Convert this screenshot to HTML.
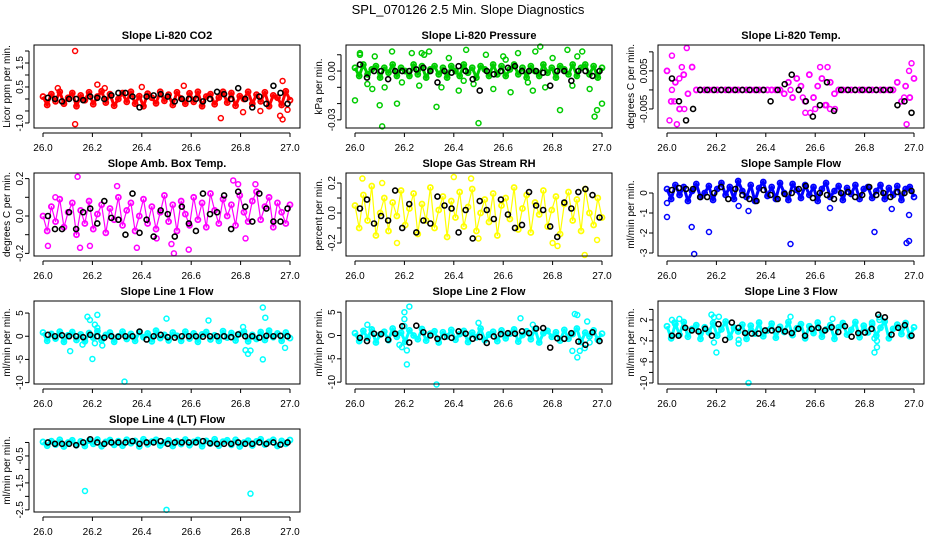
<!DOCTYPE html>
<html><head><meta charset="utf-8"><style>
body{margin:0;background:#fff}
svg{display:block;font-family:"Liberation Sans",sans-serif}
</style></head><body>
<svg id="c" width="936" height="540" viewBox="0 0 936 540">
<rect width="936" height="540" fill="#fff"/>
<text x="468" y="14" text-anchor="middle" font-size="13">SPL_070126  2.5 Min. Slope Diagnostics</text>
</svg>
<script>
const xTicks=[26.0,26.2,26.4,26.6,26.8,27.0];
const xTickLabels=["26.0","26.2","26.4","26.6","26.8","27.0"];
const titles=["Slope Li-820 CO2","Slope Li-820 Pressure","Slope Li-820 Temp.","Slope Amb. Box Temp.","Slope Gas Stream RH","Slope Sample Flow","Slope Line 1 Flow","Slope Line 2 Flow","Slope Line 3 Flow","Slope Line 4 (LT) Flow"];
const yTitles=["Licor ppm per min.","kPa per min.","degrees C per min.","degrees C per min.","percent per min.","ml/min per min.","ml/min per min.","ml/min per min.","ml/min per min.","ml/min per min."];
const colors=["#ff0000","#00cc00","#ff00ff","#ff00ff","#ffff00","#0000ff","#00ffff","#00ffff","#00ffff","#00ffff"];
const zigWidths=[3,3,0,1.2,1.2,3,3,3,3,3];
const yMins=[-1.21,-0.035,-0.01,-0.214,-0.287,-3.15,-10.3,-10.4,-10.2,-2.58];
const yMaxs=[2.25,0.016,0.0118,0.23,0.267,1.0,7.6,7.4,5.6,0.5];
const yTicks=[[-1,-0.5,0,0.5,1,1.5,2],[-0.03,-0.02,-0.01,0,0.01],[-0.005,0,0.005,0.01],[-0.2,-0.1,0,0.1,0.2],[-0.2,-0.1,0,0.1,0.2],[-3,-2,-1,0],[-10,-5,0,5],[-10,-5,0,5],[-10,-8,-6,-4,-2,0,2,4],[-2.5,-2,-1.5,-1,-0.5,0]];
const yTickLabels=[["-1.0","","","0.5","","1.5",""],["-0.03","","","0.00",""],["-0.005","","0.005",""],["-0.2","","0.0","","0.2"],["-0.2","","0.0","","0.2"],["-3","-2","-1","0"],["-10","-5","0","5"],["-10","-5","0","5"],["-10","","-6","","-2","","2",""],["-2.5","","-1.5","","-0.5",""]];
const band0=[0.1,-0.25,0.2,-0.1,0.3,-0.2,0.05,0.25,-0.3,0.15,-0.05,0.28,-0.22,0.1,0.32,-0.15,0.2,-0.28,0.0,0.25,-0.12,0.3,-0.2,0.12,-0.3,0.22,0.05,-0.18,0.3,-0.08,0.18,-0.25,0.28,0.02,-0.2,0.24,-0.12,0.3,-0.3,0.1,0.2,-0.22,0.06,0.3,-0.15,0.25,-0.28,0.12,0.0,0.3,-0.2,0.18,-0.1,0.28,-0.3,0.15,0.05,-0.25,0.32,-0.05];
const band1=[0.002,-0.003,0.004,-0.002,0.001,0.003,-0.004,0.002,-0.001,0.004,-0.003,0.002,0.0,-0.003,0.004,-0.002,0.003,-0.004,0.001,0.003,-0.002,0.002,-0.004,0.003,0.0,-0.003,0.004,-0.001,0.002,-0.004,0.003,0.001,-0.003,0.004,-0.002,0.003,-0.003,0.001,0.004,-0.002,0.002,-0.004,0.003,0.0,-0.003,0.004,-0.001,0.002,-0.004,0.003,0.001,-0.002,0.004,-0.003,0.002,0.004,-0.002,0.003,-0.004,0.002];
const band2=[0.005,-0.003,0.002,-0.005,0.004,-0.001,0.006,0,0,0,0,0,0,0,0,0,0,0,0,0,0,0,0,0,0,0,0,0,-0.001,0.002,-0.002,0.003,0.001,-0.003,0.004,-0.002,0.001,0.003,-0.004,0.002,-0.001,0,0,0,0,0,0,0,0,0,0,0,0,0,0,0.002,-0.003,0.001,-0.002,0.003];
const band3=[0.0,-0.08,0.05,-0.03,0.09,-0.06,0.02,0.07,-0.1,0.03,-0.04,0.08,-0.07,0.01,0.06,-0.09,0.04,-0.02,0.1,-0.05,0.03,0.07,-0.08,0.0,0.09,-0.04,0.05,-0.07,0.02,0.11,-0.03,0.06,-0.08,0.08,0.01,-0.05,0.1,-0.02,0.07,-0.06,0.12,0.03,-0.04,0.09,0.0,0.06,-0.05,0.11,0.02,-0.03,0.08,0.13,-0.02,0.05,0.1,-0.06,0.07,0.02,-0.04,0.06];
const band4=[0.05,-0.1,0.12,-0.05,0.18,-0.15,0.0,0.1,-0.12,0.07,-0.02,0.15,-0.08,0.03,0.13,-0.14,0.06,-0.05,0.17,-0.1,0.02,0.11,-0.16,0.08,-0.03,0.14,-0.09,0.04,0.16,-0.12,0.0,0.09,-0.06,0.13,-0.15,0.05,0.1,-0.04,0.17,-0.11,0.03,0.12,-0.13,0.07,-0.01,0.15,-0.09,0.02,0.11,-0.14,0.06,0.14,-0.05,0.09,-0.12,0.16,0.0,-0.08,0.1,-0.03];
const band5=[0.2,-0.3,0.4,-0.1,0.3,-0.4,0.1,0.45,-0.2,0.0,0.35,-0.35,0.2,0.5,-0.1,0.3,-0.3,0.6,0.1,-0.2,0.4,-0.4,0.25,0.55,-0.15,0.3,-0.3,0.5,0.0,-0.35,0.45,0.15,-0.25,0.4,-0.1,0.3,-0.4,0.2,0.5,-0.2,0.1,0.35,-0.35,0.25,-0.05,0.4,-0.3,0.2,0.3,-0.25,0.1,0.4,-0.3,0.25,-0.1,0.35,-0.35,0.2,0.3,-0.2];
const band6=[0.8,-1.0,0.5,-0.5,1.0,-1.2,0.2,0.9,-0.8,0.4,-1.1,0.7,-0.3,1.1,-0.9,0.3,0.8,-1.2,0.0,1.0,-0.6,0.5,-1.0,0.9,-0.2,0.6,-1.1,1.2,-0.4,0.3,-0.9,0.8,0.1,-1.0,1.0,-0.5,0.6,-1.2,0.4,0.9,-0.7,0.2,-1.0,1.1,-0.3,0.7,-0.9,0.5,1.0,-1.1,0.3,-0.6,0.9,-0.8,1.2,-0.2,0.6,-1.0,0.8,-0.4];
const band7=[0.5,-1.2,1.0,-0.5,1.3,-1.5,0.2,0.8,-1.0,1.5,-0.3,0.6,-1.3,1.1,0.0,-0.8,1.4,-1.1,0.4,0.9,-1.5,0.7,-0.2,1.2,-0.9,0.3,1.0,-1.4,0.6,-0.4,1.5,-1.0,0.2,0.8,-1.2,1.1,-0.6,0.4,1.3,-1.3,0.1,0.9,-0.8,1.4,-1.5,0.5,1.0,-0.3,0.7,-1.1,1.2,-0.7,0.3,1.5,-1.4,0.6,-0.2,1.1,-0.9,0.4];
const band8=[0.8,-1.5,1.2,-0.8,1.6,-1.2,0.3,1.0,-1.6,0.6,-0.4,1.4,-1.0,0.2,1.7,-1.3,0.5,-0.2,1.1,-1.6,0.9,-0.6,1.5,-1.1,0.0,1.3,-1.4,0.7,-0.3,1.6,-0.9,0.4,1.2,-1.5,0.8,-0.5,1.5,-1.2,0.2,1.0,-1.6,0.6,1.4,-0.8,0.1,1.6,-1.3,0.9,-0.4,1.2,-1.0,0.5,1.7,-1.5,0.3,1.1,-0.7,1.4,-1.1,0.6];
const band9=[0.02,-0.12,0.05,-0.08,0.1,-0.15,0.0,0.08,-0.1,0.04,-0.13,0.07,-0.05,0.11,-0.14,0.02,0.09,-0.09,0.05,-0.12,0.1,-0.03,0.06,-0.15,0.12,-0.07,0.03,0.1,-0.11,0.0,0.08,-0.13,0.05,-0.06,0.11,-0.1,0.02,0.09,-0.14,0.06,-0.04,0.12,-0.12,0.03,0.08,-0.09,0.1,-0.15,0.0,0.07,-0.11,0.04,0.12,-0.08,0.02,0.1,-0.13,0.06,-0.05,0.09];
const bands=[band0,band1,band2,band3,band4,band5,band6,band7,band8,band9];
const outX=[[26.13,26.13,26.22,26.57,26.4,26.72,26.81,26.97,26.97,26.96,26.99,26.25,26.06,26.88],
[26.0,26.02,26.1,26.11,26.17,26.33,26.5,26.75,26.83,26.97,26.98,27.0,26.86,26.27,26.02,26.05,26.08,26.12,26.15,26.19,26.23,26.26,26.3,26.35,26.38,26.42,26.45,26.48,26.53,26.56,26.6,26.63,26.66,26.7,26.73,26.77,26.8,26.88,26.92,26.95,26.07,26.28,26.44,26.61,26.72,26.9],
[26.02,26.08,26.01,26.04,26.0,26.06,26.03,26.56,26.58,26.6,26.62,26.65,26.64,26.66,26.68,26.97,26.99,26.98,26.96,26.02,26.05,26.07,26.5,26.55],
[26.02,26.14,26.15,26.19,26.3,26.38,26.53,26.59,26.52,26.77,26.79,26.86,26.82,26.46,26.05],
[26.03,26.17,26.4,26.47,26.5,26.82,26.93,26.8,26.98,26.11],
[26.0,26.0,26.11,26.1,26.17,26.5,26.84,26.97,26.98,26.98,26.91,26.33,26.66,26.29],
[26.18,26.19,26.21,26.22,26.2,26.11,26.16,26.24,26.21,26.33,26.5,26.67,26.89,26.9,26.81,26.82,26.83,26.89,26.84,26.98,26.17,26.22],
[26.05,26.2,26.2,26.21,26.22,26.21,26.19,26.33,26.5,26.67,26.72,26.89,26.9,26.9,26.91,26.94,26.93,26.88,26.95,26.2,26.18],
[26.02,26.03,26.05,26.18,26.19,26.2,26.21,26.19,26.29,26.29,26.33,26.5,26.67,26.84,26.85,26.86,26.84,26.85,26.86,26.83],
[26.17,26.5,26.84]];
const outY=[[2.0,-1.05,0.6,0.55,0.5,-0.8,-0.55,0.75,-0.85,-0.7,-0.45,0.45,0.45,-0.5],
[-0.018,0.011,-0.021,-0.034,-0.02,-0.022,-0.032,0.015,-0.024,-0.028,-0.024,-0.02,0.013,0.011,0.01,-0.008,0.009,-0.01,0.012,-0.007,0.011,-0.009,0.012,-0.01,0.008,-0.012,0.013,-0.008,0.01,-0.011,0.009,-0.013,0.011,-0.007,0.012,-0.01,0.008,-0.009,0.012,-0.011,-0.011,0.01,-0.006,0.007,-0.012,0.009],
[0.009,0.011,-0.008,-0.009,0.005,0.006,-0.003,-0.006,-0.006,-0.005,0.006,0.006,-0.004,-0.005,-0.005,-0.009,0.007,0.005,-0.002,0.0,0.003,-0.005,0.0,-0.002],
[-0.16,0.21,-0.17,-0.16,0.16,-0.17,-0.2,-0.18,-0.15,0.19,0.17,0.17,-0.12,-0.12,0.1],
[0.23,-0.2,0.24,0.23,-0.17,-0.22,-0.28,-0.2,-0.18,0.2],
[-1.2,-0.5,-3.05,-1.7,-1.95,-2.55,-1.95,-2.5,-2.4,-1.1,-0.8,-0.9,-0.75,-0.65],
[4.2,3.5,2.5,4.6,-4.9,-3.2,-1.8,-2.0,-1.5,-9.8,3.8,3.4,6.2,4.0,2.0,-3.0,-3.8,-5.0,-3.1,-2.5,-1.0,1.8],
[2.3,5.0,3.5,-3.2,6.2,-6.2,-2.5,-10.5,2.7,3.7,2.3,4.6,4.4,-4.7,-3.3,3.0,-2.7,-3.3,-1.5,2.0,-2.0],
[2.0,1.5,2.2,3.0,2.5,-4.2,2.6,-2.3,-1.8,-2.5,-10.0,2.6,2.2,-4.2,-3.2,2.5,-1.5,-2.0,2.0,1.5],
[-1.8,-2.5,-1.9]];
const black0=[0.05,0.0,-0.1,0.0,0.0,-0.05,0.1,0.05,0.0,0.15,0.25,0.25,0.1,-0.35,0.1,0.15,0.2,0.1,-0.1,0.0,0.0,0.0,-0.1,0.0,0.3,0.2,0.0,0.45,0.0,-0.35,0.1,-0.2,0.55,0.25,-0.2];
const black1=[0.004,-0.004,0.0,0.0,-0.005,0.0,0.0,0.0,0.001,0.002,0.0,-0.007,0.0,-0.001,0.003,0.0,-0.005,-0.012,0.0,-0.002,0.0,0.002,0.003,0.0,0.0,0.0,-0.001,-0.009,0.0,0.0,-0.006,0.0,0.0,-0.003,0.0];
const black2=[0.003,-0.003,-0.008,-0.005,0,0,0,0,0,0,0,0,0,0,-0.003,0,0.0015,0.004,0,-0.003,-0.007,-0.004,0.002,-0.0055,0,0,0,0,0,0,0,0,-0.004,-0.003,-0.006];
const black3=[0.0,-0.07,-0.07,0.02,-0.07,0.02,0.04,-0.04,0.08,-0.01,-0.02,-0.1,0.12,-0.09,-0.02,-0.11,0.03,0.01,-0.11,0.05,-0.04,-0.08,0.12,0.01,0.02,0.11,-0.07,0.13,0.05,-0.03,0.12,0.04,-0.03,-0.03,0.04];
const black4=[0.03,0.09,-0.07,-0.02,-0.05,0.15,-0.1,0.06,-0.13,-0.05,-0.07,0.11,0.05,0.03,-0.13,0.02,-0.17,0.08,0.02,-0.04,0.09,-0.01,-0.1,-0.08,0.14,0.05,0.02,-0.09,-0.16,0.07,0.03,0.14,0.16,0.12,-0.03];
const black5=[0.15,0.25,0.2,0.2,-0.2,-0.2,0.0,0.3,-0.3,0.2,-0.1,-0.3,-0.4,0.15,-0.1,-0.3,-0.05,0.0,0.2,0.35,-0.25,0.0,-0.1,-0.3,0.0,0.05,-0.2,-0.1,0.3,-0.1,0.0,-0.2,0.05,0.0,0.1];
const black6=[0.3,0.0,0.2,0.0,0.0,-0.2,0.3,0.0,-0.3,0.0,-0.1,0.0,0.0,1.0,-0.7,0.0,0.3,-0.2,-0.3,0.0,0.0,0.0,-0.1,0.0,0.0,0.0,-0.2,0.4,0.0,0.0,-0.3,0.1,0.0,0.1,0.0];
const black7=[-0.5,-1.2,0.4,0.3,-0.9,0.4,2.0,-1.5,2.1,0.7,0.0,-0.7,-0.3,-0.5,0.9,0.4,-0.7,-0.3,-1.6,-0.2,0.3,0.5,0.4,0.9,0.5,1.5,1.6,-2.6,-0.6,-0.7,0.5,-1.3,-2.0,0.7,-1.2];
const black8=[-1.0,-1.0,0.5,0.0,-0.2,0.3,-1.0,1.2,-1.8,1.5,0.5,-0.5,-0.6,-0.6,0.0,0.0,0.2,-0.2,-0.5,0.3,-1.0,0.3,0.5,0.0,0.6,-0.3,0.8,-1.2,-0.5,-0.4,0.3,3.0,2.5,-0.8,0.5,1.0,-1.0];
const black9=[0.0,-0.05,-0.05,-0.05,-0.1,0.0,0.12,0.0,-0.05,0.0,0.0,0.0,0.05,-0.05,0.0,0.0,0.05,-0.05,0.0,0.0,0.0,0.0,0.05,-0.03,-0.05,-0.05,-0.05,0.0,-0.05,-0.05,0.0,-0.05,0.0,-0.08,0.0];
const blacks=[black0,black1,black2,black3,black4,black5,black6,black7,black8,black9];

const NS="http://www.w3.org/2000/svg";
const svg=document.getElementById('c');
const colLeft=[34,346,658], rowTop=[45,173,301,429], W=266, H=83;
function mk(tag,attrs,parent){const e=document.createElementNS(NS,tag);for(const k in attrs)e.setAttribute(k,attrs[k]);parent.appendChild(e);return e;}
for(let p=0;p<10;p++){
  const L=colLeft[p%3], T=rowTop[Math.floor(p/3)], B=T+H;
  const g=mk('g',{},svg);
  
  
  const sx=v=>L+9+(v-26)*247;
  const sy=v=>B-(v-yMins[p])/(yMaxs[p]-yMins[p])*H;
  const t=mk('text',{x:L+W/2,y:T-6,'text-anchor':'middle','font-size':11,'font-weight':'bold'},g);
  t.textContent=titles[p];
  
  
  const yt=mk('text',{x:0,y:0,'text-anchor':'middle','font-size':10,transform:`translate(${L-24},${T+H/2}) rotate(-90)`},g);
  yt.textContent=yTitles[p];
  
  
  mk('line',{x1:sx(26),x2:sx(27),y1:B+5,y2:B+5,stroke:'#000','stroke-width':1},g);
  xTicks.forEach((v,i)=>{
    mk('line',{x1:sx(v),x2:sx(v),y1:B+5,y2:B+9,stroke:'#000'},g);
    const tl=mk('text',{x:sx(v),y:B+23,'text-anchor':'middle','font-size':10},g);
    tl.textContent=xTickLabels[i];
    
    
  });
  const yt0=yTicks[p];
  mk('line',{x1:L-5,x2:L-5,y1:sy(yt0[0]),y2:sy(yt0[yt0.length-1]),stroke:'#000'},g);
  yt0.forEach((v,i)=>{
    mk('line',{x1:L-9,x2:L-5,y1:sy(v),y2:sy(v),stroke:'#000'},g);
    if(yTickLabels[p][i]){
      const tl=mk('text',{x:0,y:0,'text-anchor':'middle','font-size':10,transform:`translate(${L-11},${sy(v)}) rotate(-90)`},g);
      tl.textContent=yTickLabels[p][i];
      
      
    }
  });
  const bd=bands[p];
  if(zigWidths[p]>0){
    const pts=bd.map((v,i)=>sx(26+i/(bd.length-1))+','+sy(v)).join(' ');
    const pl=mk('polyline',{points:pts,fill:'none',stroke:colors[p],'stroke-width':zigWidths[p],'stroke-linejoin':'round'},g);
    
    
  }
  bd.forEach((v,i)=>{
    const c=mk('circle',{cx:sx(26+i/(bd.length-1)),cy:sy(v),r:2.5,fill:'none',stroke:colors[p],'stroke-width':1.8},g);
    
    
  });
  outX[p].forEach((x,i)=>{
    const c=mk('circle',{cx:sx(x),cy:sy(outY[p][i]),r:2.5,fill:'none',stroke:colors[p],'stroke-width':1.5},g);
    
    
  });
  const bk=blacks[p];
  bk.forEach((v,i)=>{
    const c=mk('circle',{cx:sx(26.02+i*0.97/(bk.length-1)),cy:sy(v),r:2.5,fill:'none',stroke:'#000','stroke-width':1.6},g);
    
    
  });
  const box=mk('rect',{x:L,y:T,width:W,height:H,fill:'none',stroke:'#000','stroke-width':1},g);
  
  
}
</script>
</body></html>
